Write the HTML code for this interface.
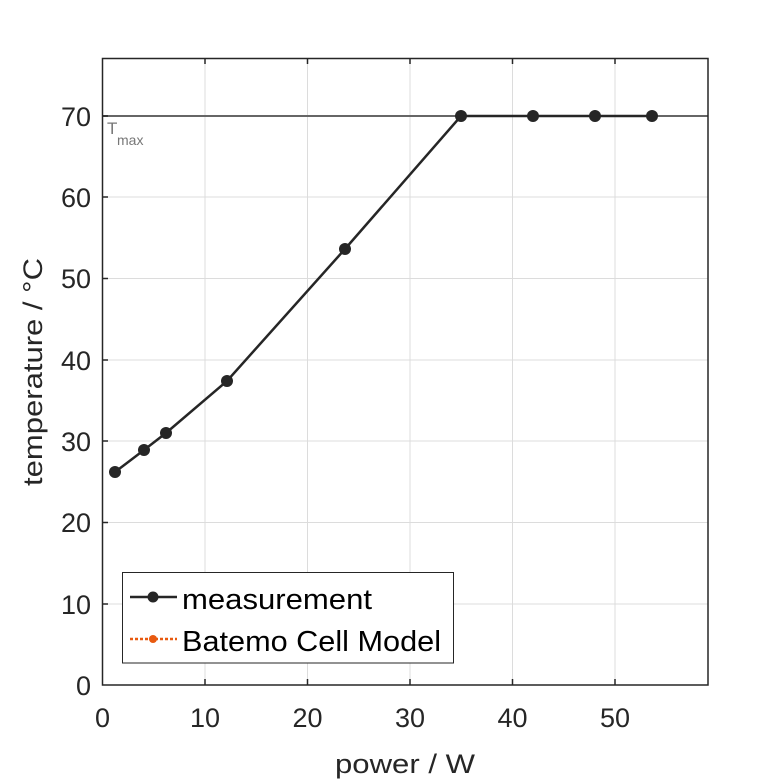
<!DOCTYPE html>
<html><head><style>body{margin:0;background:#fff}svg{display:block}</style></head><body>
<svg width="781" height="781" viewBox="0 0 781 781" xmlns="http://www.w3.org/2000/svg" font-family="Liberation Sans, sans-serif">
<rect width="781" height="781" fill="#fff"/>
<g stroke="#dcdcdc" stroke-width="1">
<line x1="205" y1="58.5" x2="205" y2="685"/><line x1="307.5" y1="58.5" x2="307.5" y2="685"/><line x1="410" y1="58.5" x2="410" y2="685"/><line x1="512.5" y1="58.5" x2="512.5" y2="685"/><line x1="615" y1="58.5" x2="615" y2="685"/>
<line x1="102.5" y1="604" x2="708" y2="604"/><line x1="102.5" y1="522.5" x2="708" y2="522.5"/><line x1="102.5" y1="441" x2="708" y2="441"/><line x1="102.5" y1="360" x2="708" y2="360"/><line x1="102.5" y1="278.5" x2="708" y2="278.5"/><line x1="102.5" y1="197" x2="708" y2="197"/>
</g>
<line x1="102.5" y1="116" x2="708" y2="116" stroke="#666" stroke-width="2"/>
<text x="107" y="134" font-size="17" fill="#777">T</text><text x="117" y="145" font-size="14" fill="#777">max</text>
<rect x="102.5" y="58.5" width="605.5" height="626.5" fill="none" stroke="#262626" stroke-width="1.5"/>
<g stroke="#262626" stroke-width="1.5">
<line x1="205" y1="685" x2="205" y2="679"/><line x1="307.5" y1="685" x2="307.5" y2="679"/><line x1="410" y1="685" x2="410" y2="679"/><line x1="512.5" y1="685" x2="512.5" y2="679"/><line x1="615" y1="685" x2="615" y2="679"/>
<line x1="205" y1="58.5" x2="205" y2="64"/><line x1="307.5" y1="58.5" x2="307.5" y2="64"/><line x1="410" y1="58.5" x2="410" y2="64"/><line x1="512.5" y1="58.5" x2="512.5" y2="64"/><line x1="615" y1="58.5" x2="615" y2="64"/>
<line x1="102.5" y1="604" x2="108" y2="604"/><line x1="102.5" y1="522.5" x2="108" y2="522.5"/><line x1="102.5" y1="441" x2="108" y2="441"/><line x1="102.5" y1="360" x2="108" y2="360"/><line x1="102.5" y1="278.5" x2="108" y2="278.5"/><line x1="102.5" y1="197" x2="108" y2="197"/><line x1="102.5" y1="116" x2="108" y2="116"/>
</g>
<g font-size="27" fill="#262626" text-anchor="middle">
<text x="102.5" y="727">0</text><text x="205" y="727">10</text><text x="307.5" y="727">20</text><text x="410" y="727">30</text><text x="512.5" y="727">40</text><text x="615" y="727">50</text>
</g>
<g font-size="27" fill="#262626" text-anchor="end">
<text x="91" y="695">0</text><text x="91" y="614">10</text><text x="91" y="532">20</text><text x="91" y="451">30</text><text x="91" y="370">40</text><text x="91" y="288">50</text><text x="91" y="207">60</text><text x="91" y="126">70</text>
</g>
<text x="405" y="773" font-size="27" fill="#262626" text-anchor="middle" textLength="140" lengthAdjust="spacingAndGlyphs">power / W</text>
<text transform="translate(42 372) rotate(-90)" font-size="27" fill="#262626" text-anchor="middle" textLength="228" lengthAdjust="spacingAndGlyphs">temperature / °C</text>
<polyline points="115,472 144,450 166,433 227,381 345,249 461,116 533,116 595,116 652,116" fill="none" stroke="#262626" stroke-width="2.5"/>
<g fill="#262626">
<circle cx="115" cy="472" r="6"/><circle cx="144" cy="450" r="6"/><circle cx="166" cy="433" r="6"/><circle cx="227" cy="381" r="6"/><circle cx="345" cy="249" r="6"/><circle cx="461" cy="116" r="6"/><circle cx="533" cy="116" r="6"/><circle cx="595" cy="116" r="6"/><circle cx="652" cy="116" r="6"/>
</g>
<rect x="122.5" y="572.5" width="331" height="90.5" fill="#fff" stroke="#262626" stroke-width="1"/>
<line x1="130" y1="597" x2="177" y2="597" stroke="#262626" stroke-width="2.5"/><circle cx="153" cy="597" r="5.5" fill="#262626"/>
<text x="182" y="609" font-size="29" fill="#000" textLength="190" lengthAdjust="spacingAndGlyphs">measurement</text>
<line x1="130" y1="639" x2="177" y2="639" stroke="#e85a10" stroke-width="2.5" stroke-dasharray="3,2"/><circle cx="153" cy="639" r="4" fill="#e85a10"/>
<text x="182" y="651" font-size="29" fill="#000" textLength="259" lengthAdjust="spacingAndGlyphs">Batemo Cell Model</text>
</svg>
</body></html>
